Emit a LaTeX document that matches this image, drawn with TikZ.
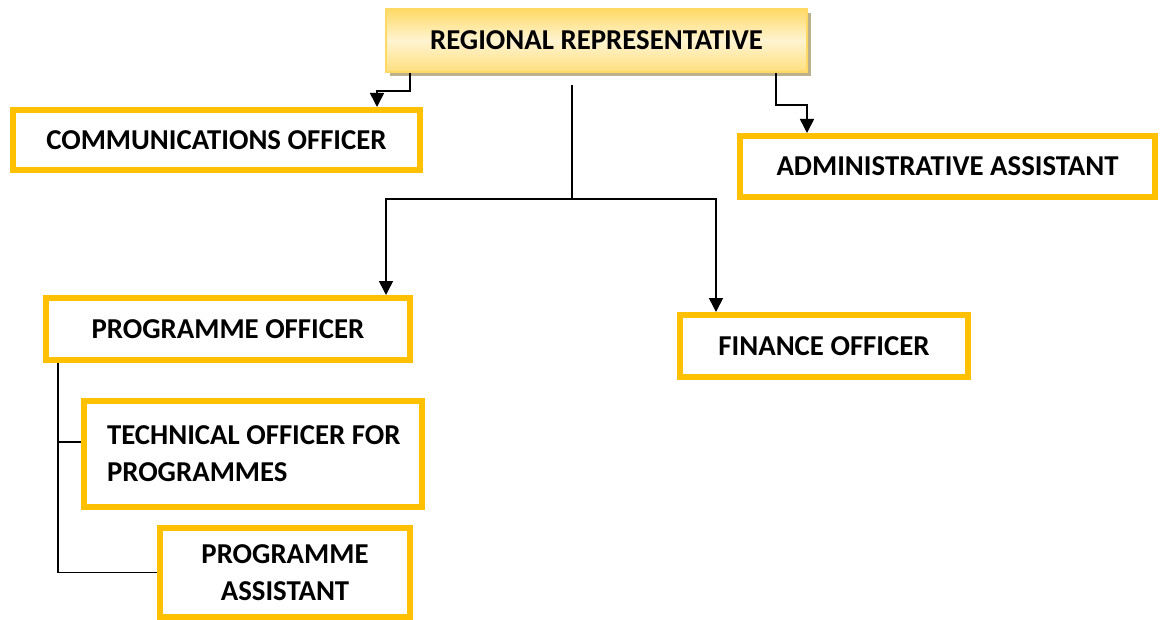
\documentclass[tikz,border=0pt]{standalone}
\usepackage{fontspec}
\setmainfont{Carlito}
\usepackage{xcolor}
\usetikzlibrary{arrows.meta, shadows}

\definecolor{boxgold}{HTML}{FFC000}
\definecolor{topgold}{HTML}{FFD966}
\definecolor{topcream}{HTML}{FFF4D2}
\definecolor{shadowtan}{HTML}{BDB08C}

\begin{document}
\begin{tikzpicture}[x=0.5pt, y=-0.5pt,
  every node/.style={font=\fontsize{14.4}{18.5}\selectfont\bfseries},
  post/.style={draw=boxgold, line width=3pt, fill=white, align=center, inner sep=0pt},
  head/.style={draw=topgold, line width=1pt, top color=topgold, bottom color=topgold!85, middle color=topcream,
    drop shadow={shadow xshift=2pt, shadow yshift=-2.2pt, fill=shadowtan, opacity=1}},
  link/.style={line width=0.8pt},
  arr/.style={link, -{Triangle[width=7pt, length=7pt]}}]
\useasboundingbox (0,0) rectangle (1160,620);

\node[head, minimum width=210.5pt, minimum height=31.5pt] (rep) at (596.5,40.5) {REGIONAL REPRESENTATIVE};
\node[post, minimum width=203.5pt, minimum height=30pt] (comm) at (216.5,140) {COMMUNICATIONS OFFICER};
\node[post, minimum width=207.5pt, minimum height=30.5pt] (admin) at (947.5,166.5) {ADMINISTRATIVE ASSISTANT};
\node[post, minimum width=182pt, minimum height=31pt] (prog) at (228,329) {PROGRAMME OFFICER};
\node[post, minimum width=144pt, minimum height=31pt] (fin) at (824,346) {FINANCE OFFICER};
\node[post, text width=146pt, inner xsep=11.5pt, align=flush left, minimum height=53pt] (tech) at (253,454) {\mbox{TECHNICAL OFFICER FOR}\\PROGRAMMES};
\node[post, minimum width=125pt, minimum height=44.5pt] (pa) at (285,572.5) {PROGRAMME\\ASSISTANT};

\coordinate (trunk) at (572,85);
\coordinate (split) at (572,199);

\draw[arr] (410,0 |- rep.south) |- (377,91) -- (377,0 |- comm.north);
\draw[arr] (776,0 |- rep.south) |- (807,105) -- (807,0 |- admin.north);
\draw[link] (trunk) -- (split);
\draw[arr] (split) -| (386,0 |- prog.north);
\draw[arr] (split) -| (716,0 |- fin.north);

\draw[link] (58,0 |- prog.south) |- (pa.west);
\draw[link] (58,442) -- (tech.west |- 0,442);
\end{tikzpicture}
\end{document}
